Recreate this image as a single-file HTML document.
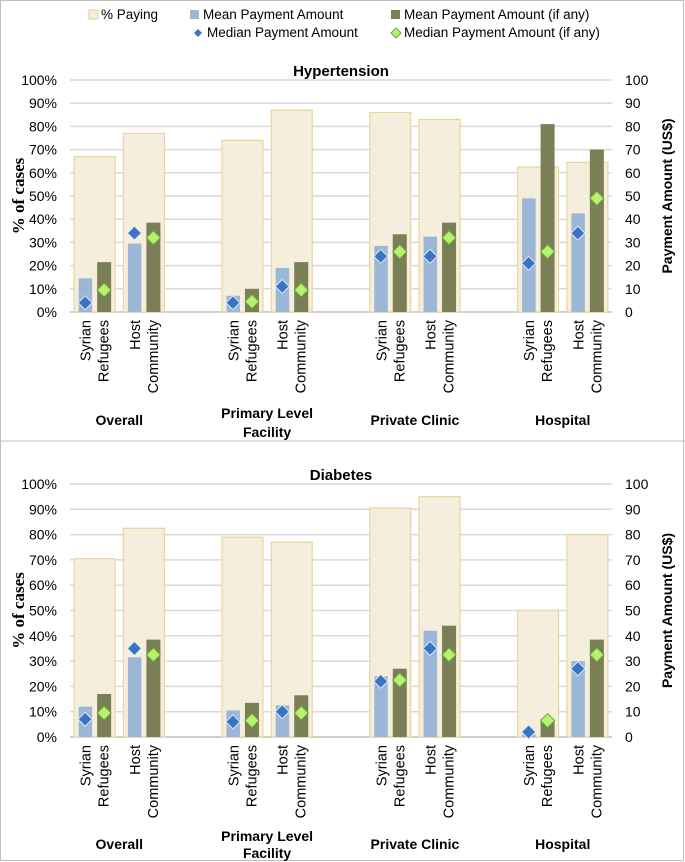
<!DOCTYPE html>
<html><head><meta charset="utf-8"><style>
html,body{margin:0;padding:0;background:#fff}
svg{display:block;font-family:"Liberation Sans",sans-serif}
</style></head><body>
<svg id="s" width="685" height="862" viewBox="0 0 685 862">
<rect x="0.5" y="0.5" width="683" height="860" fill="#fff" stroke="#bfbfbf"/>
<line x1="0" y1="441" x2="685" y2="441" stroke="#bfbfbf"/>
<g font-size="13.5" fill="#000">
<rect x="89" y="10" width="9" height="9" fill="#f5eedc" stroke="#e5cf90"/>
<text x="101" y="19">% Paying</text>
<rect x="190" y="10" width="9" height="9" fill="#9cb6d6"/>
<text x="203" y="19">Mean Payment Amount</text>
<rect x="391" y="10" width="9" height="9" fill="#7b7f55"/>
<text x="404" y="19">Mean Payment Amount (if any)</text>
<path d="M198,29 l4,4 l-4,4 l-4,-4z" fill="#3b73c4"/>
<text x="207" y="37">Median Payment Amount</text>
<path d="M396,28 l5,5 l-5,5 l-5,-5z" fill="#b8f070" stroke="#6aa83a"/>
<text x="404" y="37">Median Payment Amount (if any)</text>
</g>
</svg>
<script>
const groups = ["Overall","Primary Level|Facility","Private Clinic","Hospital"];
const pops = ["Syrian|Refugees","Host|Community"];
const htPaying = [67,77,74,87,86,83,62.5,64.5];
const htMean = [14.5,29.5,7,19,28.5,32.5,49,42.5];
const htMeanAny = [21.5,38.5,10,21.5,33.5,38.5,81,70];
const htMedian = [4,34,4,11,24,24,21,34];
const htMedianAny = [9.5,32,4.5,9.5,26,32,26,49];
const dbPaying = [70.5,82.5,79,77,90.5,95,50,80];
const dbMean = [12,31.5,10.5,12.5,24,42,1,30];
const dbMeanAny = [17,38.5,13.5,16.5,27,44,7,38.5];
const dbMedian = [7,35,6,10,22,35,2,27];
const dbMedianAny = [9.5,32.5,6.5,9.5,22.5,32.5,6.5,32.5];
const leftTicks = ["0%","10%","20%","30%","40%","50%","60%","70%","80%","90%","100%"];
const rightTicks = ["0","10","20","30","40","50","60","70","80","90","100"];

const NS="http://www.w3.org/2000/svg";
const svg=document.getElementById('s');
function mk(tag,attrs,parent,txt){const e=document.createElementNS(NS,tag);for(const k in attrs)e.setAttribute(k,attrs[k]);if(txt!==undefined)e.textContent=txt;(parent||svg).appendChild(e);return e;}

function panel(cfg){
  const x0=70,x1=612,slot=(x1-x0)/11;
  const y=v=>cfg.y0-(v/100)*(cfg.y0-cfg.y100);
  const g=mk('g',{});
  
  
  leftTicks.forEach((t,i)=>{
    const yy=y(i*10);
    const gl=mk('line',{x1:x0,x2:x1,y1:yy,y2:yy,stroke:i==0?'#bfbfbf':'#d9d9d9','stroke-width':1.5},g);
    
    
    const lt=mk('text',{x:57,y:yy+5,'text-anchor':'end','font-size':14},g,t);
    
    
    const rt=mk('text',{x:625,y:yy+5,'font-size':14},g,rightTicks[i]);
    
    
  });
  const ti=mk('text',{x:341,y:cfg.y100-4,'text-anchor':'middle','font-size':15,'font-weight':'bold'},g,cfg.title);
  
  
  const yc=(cfg.y0+cfg.y100)/2;
  const yt=mk('text',{x:0,y:0,'text-anchor':'middle','font-size':17,'font-weight':'bold','font-family':'"Liberation Serif",serif',transform:`translate(24,${yc}) rotate(-90)`},g,'% of cases');
  
  
  const yt2=mk('text',{x:0,y:0,'text-anchor':'middle','font-size':14,'font-weight':'bold',transform:`translate(672,${yc}) rotate(-90)`},g,'Payment Amount (US$)');
  
  
  cfg.paying.forEach((p,i)=>{
    const gi=Math.floor(i/2),pi=i%2;
    const slotIdx=gi*3+pi;
    const cx=x0+slot*(slotIdx+0.5);
    const r=mk('rect',{x:cx-20.5,y:y(p),width:41,height:cfg.y0-y(p),fill:'#f5eedc',stroke:'#ead59a','stroke-width':1.2},g);
    
    
    const m=mk('rect',{x:cx-16,y:y(cfg.mean[i]),width:13.5,height:cfg.y0-y(cfg.mean[i]),fill:'#9cb6d6'},g);
    
    
    const ma=mk('rect',{x:cx+2.5,y:y(cfg.meanAny[i]),width:14,height:cfg.y0-y(cfg.meanAny[i]),fill:'#7b7f55'},g);
    
    
    const md=y(cfg.median[i]),mx=cx-9.5;
    const d1=mk('path',{d:`M${mx},${md-7} l7,7 l-7,7 l-7,-7z`,fill:'#3b73c4',stroke:'#dbe8f7','stroke-width':1},g);
    
    
    const ma2=y(cfg.medianAny[i]),ax=cx+9.5;
    const d2=mk('path',{d:`M${ax},${ma2-7} l7,7 l-7,7 l-7,-7z`,fill:'#b8f070',stroke:'#6aa83a','stroke-width':1},g);
    
    
    const lines=pops[pi].split('|');
    lines.forEach((ln,k)=>{
      const tx=cx-9+k*18, ty=cfg.y0+8;
      const t=mk('text',{x:0,y:0,'text-anchor':'end','font-size':14.5,transform:`translate(${tx+5},${ty}) rotate(-90)`},g,ln);
      
      
    });
  });
  groups.forEach((gn,gi)=>{
    const cx=x0+slot*(gi*3+1);
    const parts=gn.split('|');
    parts.forEach((p,k)=>{
      const yy=parts.length==1?cfg.gy+5:cfg.gy+cfg.g2+k*cfg.g2s;
      const t=mk('text',{x:cx,y:yy,'text-anchor':'middle','font-size':14,'font-weight':'bold'},g,p);
      
      
    });
  });
}
panel({name:'hypertension-panel',title:'Hypertension',y0:312,y100:80,gy:420,g2:-2,g2s:19,paying:htPaying,mean:htMean,meanAny:htMeanAny,median:htMedian,medianAny:htMedianAny});
panel({name:'diabetes-panel',title:'Diabetes',y0:737,y100:484,gy:844,g2:-3,g2s:17,paying:dbPaying,mean:dbMean,meanAny:dbMeanAny,median:dbMedian,medianAny:dbMedianAny});
</script>
</body></html>
